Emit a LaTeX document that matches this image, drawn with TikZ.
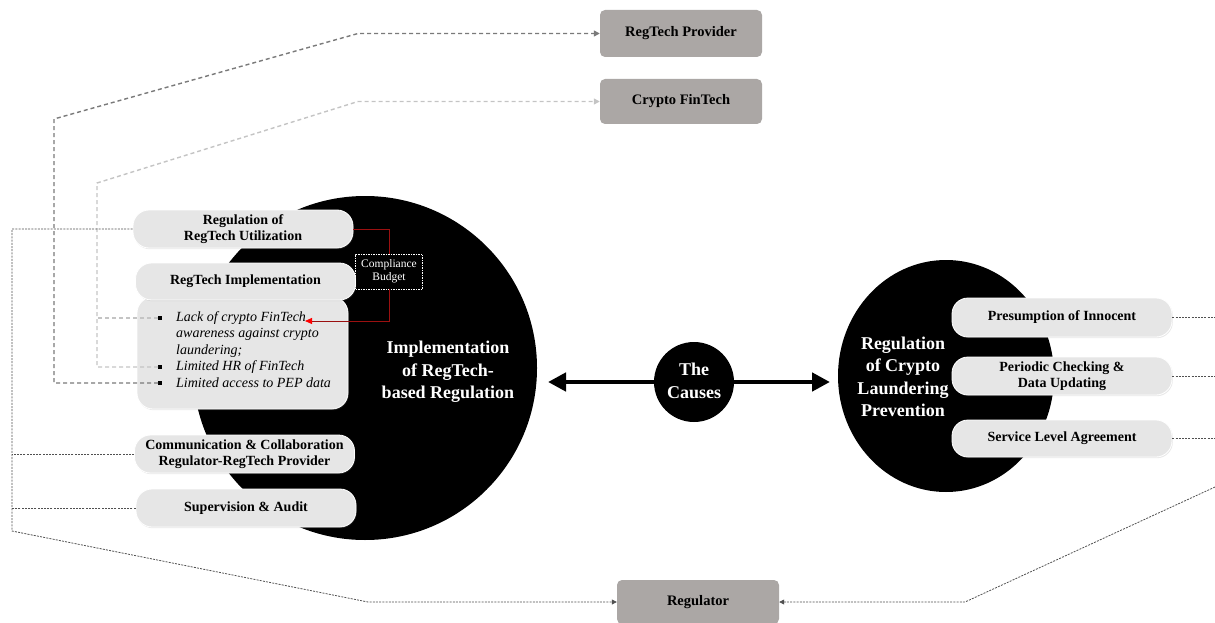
\documentclass[tikz,border=0pt]{standalone}
\usepackage{fontspec}
\setmainfont{Liberation Serif}
\usetikzlibrary{arrows.meta,shadows,shapes.geometric}
\definecolor{boxgray}{HTML}{ABA7A5}
\definecolor{lightbox}{HTML}{E6E6E6}
\definecolor{darkred}{HTML}{9B1010}
\definecolor{dashdark}{HTML}{7A7A7A}
\definecolor{dashlight}{HTML}{C4C4C4}
\definecolor{dotline}{HTML}{505050}
\newcommand\myfs[2]{\fontsize{#1}{#2}\selectfont}
\begin{document}
\begin{tikzpicture}[x=1pt,y=-1pt,
  graybox/.style={rectangle, rounded corners=5pt, fill=boxgray, minimum width=162pt, inner sep=0pt, font=\myfs{14.5}{16}\bfseries},
  pill/.style={rectangle, rounded corners=16pt, fill=lightbox, draw=white, line width=0.8pt, minimum width=220pt, minimum height=38pt, inner sep=0pt, align=center, font=\myfs{14}{16.5}\bfseries, drop shadow={opacity=0.18, shadow xshift=0.8pt, shadow yshift=-1.2pt}},
  blackdisc/.style={fill=black, inner sep=0pt},
  whitetext/.style={text=white, align=center, font=\myfs{18}{22.5}\bfseries, inner sep=0pt},
  bulletsq/.style={rectangle, fill=black, minimum size=3.5pt, inner sep=0pt},
  listtext/.style={anchor=west, inner sep=0pt, font=\myfs{14}{16}\itshape},
  compbox/.style={draw=white, dash pattern=on 1.5pt off 1pt, line width=0.6pt, text=white, minimum width=67pt, minimum height=35pt, inner sep=0pt, align=center, font=\myfs{11.5}{13}\selectfont},
  darkdash/.style={draw=dashdark, line width=1.4pt, dash pattern=on 4pt off 3pt},
  lightdash/.style={draw=dashlight, line width=1.4pt, dash pattern=on 4pt off 3pt},
  dotl/.style={draw=dotline, line width=0.8pt, dash pattern=on 2pt off 1.2pt},
  reddraw/.style={draw=darkred, line width=1pt},
  smalltip/.style={-{Triangle[length=6pt,width=6pt]}},
  bigtip/.style={line width=4.5pt, -{Triangle[length=18pt,width=18pt]}}
]
\useasboundingbox (0,0) rectangle (1215,623);

% big discs
\node[blackdisc, circle, minimum size=344pt] (bigL) at (365,368) {};
\node[blackdisc, ellipse, minimum width=216pt, minimum height=232pt] (bigR) at (946,376) {};
\node[blackdisc, circle, minimum size=80pt] (caus) at (694,382) {};

% gray boxes
\node[graybox, minimum height=47pt] (prov) at (681,33.5) {RegTech Provider};
\node[graybox, minimum height=45pt] (cfin) at (681,101.5) {Crypto FinTech};
\node[graybox, minimum height=44pt] (regl) at (698,602) {Regulator};

% left pills
\node[pill] (b1) at (243,229) {Regulation of\\RegTech Utilization};
\node[pill, minimum width=211pt, minimum height=112pt] (lst) at (242.5,353) {};
\node[pill, minimum height=37pt] (b2) at (245.5,281.5) {RegTech Implementation};
\node[pill] (b3) at (244.5,454) {Communication \& Collaboration\\Regulator-RegTech Provider};
\node[pill] (b4) at (246,508) {Supervision \& Audit};

% right pills
\node[pill, minimum height=39pt] (r1) at (1062,317.5) {Presumption of Innocent};
\node[pill] (r2) at (1062,376) {Periodic Checking \&\\Data Updating};
\node[pill, minimum height=37pt] (r3) at (1062,438.5) {Service Level Agreement};

% list
\node[bulletsq] (blt1) at (160,318) {};
\node[bulletsq] (blt2) at (160,367) {};
\node[bulletsq] (blt3) at (160,383) {};
\node[listtext] (l1) at (176,318) {Lack of crypto FinTech};
\node[listtext] (l2) at (176,334.5) {awareness against crypto};
\node[listtext] (l3) at (176,351) {laundering;};
\node[listtext] (l4) at (176,367) {Limited HR of FinTech};
\node[listtext] (l5) at (176,383) {Limited access to PEP data};

% circle texts
\node[whitetext] (tL) at (448,372) {Implementation\\of RegTech-\\based Regulation};
\node[whitetext] (tR) at (903,377) {Regulation\\of Crypto\\Laundering\\Prevention};
\node[whitetext] (tC) at (694,381) {The\\Causes};

% compliance budget
\node[compbox] (comp) at (389,271.5) {Compliance\\Budget};

% red connector
\coordinate (redend) at (305,321);
\draw[reddraw] (b1.east) -| (comp.north);
\draw[reddraw, -{Triangle[length=7pt,width=6pt,color=red]}] (comp.south) |- (redend);

% dashed connectors
\draw[darkdash, smalltip] (blt3.west) -- (54,383) -- (54,119) -- (358,33.5) -- (prov.west);
\draw[lightdash, smalltip] (blt2.west) -- (97,367) -- (97,183) -- (358,101.5) -- (cfin.west);
\draw[lightdash] (blt1.west) -- (97,318);

% dotted connectors left
\draw[dotl, -{Triangle[length=5pt,width=5pt]}] (b1.west) -- (12,229) -- (12,531) -- (368,602) -- (regl.west);
\draw[dotl] (b3.west) -- (12,454);
\draw[dotl] (b4.west) -- (12,508);

% dotted connectors right
\coordinate (e1) at (1215,317.5);
\coordinate (e2) at (1215,376);
\coordinate (e3) at (1215,438.5);
\coordinate (e4) at (1215,487);
\draw[dotl] (r1.east) -- (e1);
\draw[dotl] (r2.east) -- (e2);
\draw[dotl] (r3.east) -- (e3);
\draw[dotl, -{Triangle[length=5pt,width=5pt]}] (e4) -- (965,602) -- (regl.east);

% causes arrows
\coordinate (tipL) at (548,382);
\coordinate (tipR) at (830,382);
\draw[bigtip] (caus.west) -- (tipL);
\draw[bigtip] (caus.east) -- (tipR);
\end{tikzpicture}
\end{document}
